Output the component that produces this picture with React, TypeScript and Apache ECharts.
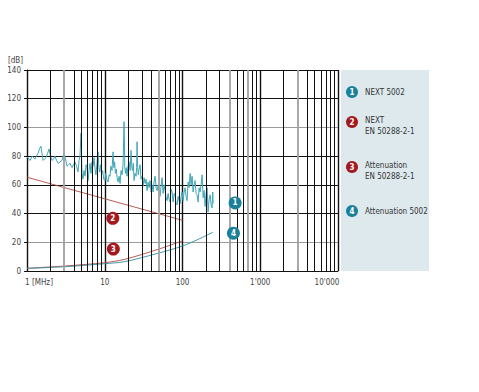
import React, { useEffect, useRef } from "react";
import * as echarts from "echarts";

const FONT = '"DejaVu Sans Condensed", "Liberation Sans Narrow", "Roboto Condensed", sans-serif';

const xTickValues = [1, 10, 100, 1000, 10000];
const xTickLabels = ["1 [MHz]", "10", "100", "1'000", "10'000"];
const yTickValues = [0, 20, 40, 60, 80, 100, 120, 140];

const seriesNames = ["NEXT 5002", "NEXT EN 50288-2-1", "Attenuation EN 50288-2-1", "Attenuation 5002"];
const legendLines = [["NEXT 5002"], ["NEXT", "EN 50288-2-1"], ["Attenuation", "EN 50288-2-1"], ["Attenuation 5002"]];
const badgeNumbers = ["1", "2", "3", "4"];

// NEXT 5002 measured (MHz, dB)
const next5002: [number, number][] = [
  [1.0, 79], [1.03, 79], [1.06, 78], [1.09, 77], [1.12, 78], [1.16, 80], [1.21, 79], [1.27, 78],
  [1.32, 80], [1.385, 82], [1.45, 85], [1.51, 87], [1.56, 82], [1.61, 77], [1.68, 78], [1.76, 79],
  [1.84, 82], [1.92, 85], [2.0, 80], [2.1, 77], [2.2, 78], [2.29, 80], [2.4, 77], [2.51, 75],
  [2.66, 76], [2.82, 77], [2.99, 82], [3.1, 79], [3.27, 73], [3.42, 74], [3.58, 75], [3.7, 73],
  [3.8, 72], [3.97, 74], [4.15, 76], [4.33, 73], [4.53, 69], [4.67, 77], [4.8, 80], [4.955, 96],
  [5.03, 80], [5.1, 68], [5.25, 64], [5.4, 70], [5.58, 66], [5.75, 74], [5.92, 72], [6.1, 63],
  [6.28, 70], [6.47, 75], [6.65, 68], [6.85, 76], [7.07, 73], [7.3, 79], [7.5, 71], [7.7, 67],
  [7.95, 75], [8.2, 83], [8.4, 72], [8.6, 69], [8.85, 74], [9.1, 67], [9.4, 70], [9.7, 64],
  [10.09, 63], [10.3, 68], [10.6, 64], [11.03, 62], [11.4, 67], [11.7, 66], [12.0, 73], [12.4, 70],
  [12.79, 83], [13.1, 72], [13.4, 76], [13.7, 68], [14.1, 71], [14.4, 65], [14.84, 62], [15.3, 66],
  [15.74, 61], [16.2, 70], [16.7, 67], [17.2, 74], [17.72, 104], [18.1, 72], [18.5, 68], [18.9, 72],
  [19.36, 66], [19.9, 73], [20.54, 76], [21.2, 70], [21.8, 84], [22.3, 72], [22.8, 70], [23.3, 75],
  [23.83, 63], [24.5, 68], [25.28, 66], [25.7, 72], [26.04, 90], [26.5, 72], [27.0, 67], [27.63, 71],
  [28.47, 74], [29.3, 64], [30.2, 66], [31.12, 59], [32.0, 65], [33.02, 61], [34.0, 64], [35.04, 56],
  [36.09, 62], [37.2, 58], [38.28, 63], [39.5, 55], [40.63, 60], [41.85, 55], [43.0, 62], [44.41, 66],
  [45.8, 58], [47.12, 56], [48.53, 60], [50.0, 54], [51.5, 52], [53.0, 59], [54.64, 65], [56.29, 54],
  [58.0, 60], [59.73, 56], [61.5, 51], [63.38, 49], [65.28, 54], [67.2, 50], [69.27, 48], [71.3, 57],
  [73.49, 55], [75.7, 48], [78.0, 54], [80.33, 53], [82.7, 47], [85.23, 46], [87.78, 52], [90.4, 49],
  [93.14, 47], [96.0, 52], [98.83, 55], [101.8, 49], [104.8, 55], [108, 58], [111.2, 52], [114.6, 49],
  [118.1, 62], [121.6, 58], [125.3, 68], [129, 60], [132.9, 66], [136.9, 55], [141, 60], [145.3, 63],
  [149.6, 54], [154.1, 53], [158.8, 48], [163.5, 58], [168.5, 55], [173.5, 60], [178.8, 67], [184.2, 51],
  [189.7, 56], [195.4, 45], [201.3, 54], [207.4, 58], [213.5, 41], [220, 50], [226.6, 53], [233.4, 46],
  [240.4, 44], [245, 55], [247.7, 47],
];

const nextEN: [number, number][] = [[1, 65.3], [10, 50.3], [100, 35.3]];
const attEN: [number, number][] = [[1, 1.9], [3.1, 3.5], [10, 5.8], [18, 8.1], [48, 15], [100, 21]];
const att5002: [number, number][] = [[1, 1.8], [3.1, 3.0], [10, 5.1], [18, 6.5], [48, 12.3], [100, 17.4], [158, 22], [247, 27]];

// badge anchor points (MHz, dB)
const badgePoints: [number, number][] = [[475, 47.4], [12.7, 36.7], [12.9, 15.3], [452, 26.3]];

const minorMultipliers = [2, 3, 4, 5, 6, 7, 8, 9];
const decadeStarts = [1, 10, 100, 1000];
const softLines = [3, 50, 400, 700, 3000];

const TEAL_LINE = "#40a6b8";
const TEAL_DARK = "#2f8ea2";
const RED_LINE = "#b3473f";
const TEAL_BADGE = "#1b809a";
const RED_BADGE = "#a5181e";
const colors = [TEAL_LINE, RED_LINE, RED_LINE, TEAL_DARK];
const badgeColors = [TEAL_BADGE, RED_BADGE, RED_BADGE, TEAL_BADGE];

export default function App() {
  const ref = useRef<HTMLDivElement>(null);
  useEffect(() => {
    if (!ref.current) return;
    const chart = echarts.init(ref.current, null, { renderer: "svg" });

    const minorValues: number[] = [];
    decadeStarts.forEach((d) => minorMultipliers.forEach((m) => minorValues.push(d * m)));

    const badge = (i: number) => ({
      silent: true,
      data: [
        {
          coord: badgePoints[i],
          symbol: "circle",
          symbolSize: 13,
          itemStyle: { color: badgeColors[i], borderWidth: 0 },
          label: {
            show: true,
            position: "inside",
            formatter: badgeNumbers[i],
            color: "#fff",
            fontSize: 8,
            fontWeight: "bold",
            fontFamily: FONT,
          },
        },
      ],
    });

    const lineData = [next5002, nextEN, attEN, att5002];

    const legendGraphics: any[] = [
      {
        type: "rect",
        shape: { x: 341, y: 70, width: 88, height: 201 },
        style: { fill: "#dee9ee" },
        z: 0,
      },
    ];
    const badgeY = [92, 122, 167, 211];
    badgeY.forEach((y, i) => {
      legendGraphics.push({
        type: "circle",
        shape: { cx: 352, cy: y, r: 6 },
        style: { fill: badgeColors[i] },
        z: 1,
      });
      legendGraphics.push({
        type: "text",
        x: 352,
        y: y,
        style: {
          text: badgeNumbers[i],
          fill: "#fff",
          font: `bold 8px ${FONT}`,
          align: "center",
          verticalAlign: "middle",
        },
        z: 2,
      });
      const lines = legendLines[i];
      legendGraphics.push({
        type: "text",
        x: 365,
        y: lines.length === 1 ? y : y + 4,
        style: {
          text: lines.join("\n"),
          fill: "#333",
          font: `8px ${FONT}`,
          lineHeight: 11,
          align: "left",
          verticalAlign: "middle",
        },
        z: 2,
      });
    });

    const option: any = {
      animation: false,
      backgroundColor: "#fff",
      grid: { left: 27, right: 141, top: 70, bottom: 121, show: false },
      xAxis: {
        type: "log",
        logBase: 10,
        min: 1,
        max: 10000,
        axisLine: { show: true, lineStyle: { color: "#111", width: 1 } },
        axisTick: { show: false },
        splitLine: { show: true, lineStyle: { color: "#111", width: 1.4 } },
        axisLabel: {
          fontFamily: FONT,
          fontSize: 8,
          color: "#444",
          margin: 7,
          showMinLabel: true,
          showMaxLabel: true,
          formatter: (v: number) => {
            const idx = xTickValues.findIndex((t) => Math.abs(Math.log10(t) - Math.log10(v)) < 0.01);
            if (idx < 0) return "";
            if (idx === 0) return `{first|${xTickLabels[idx]}}`;
            if (idx === xTickValues.length - 1) return `{last|${xTickLabels[idx]}}`;
            return xTickLabels[idx];
          },
          rich: {
            first: { fontFamily: FONT, fontSize: 8, color: "#444", padding: [0, 0, 0, 24] },
            last: { fontFamily: FONT, fontSize: 8, color: "#444", padding: [0, 22, 0, 0] },
          },
        },
      },
      yAxis: {
        type: "value",
        min: yTickValues[0],
        max: yTickValues[yTickValues.length - 1],
        interval: 20,
        name: "[dB]",
        nameLocation: "end",
        nameGap: 6,
        nameTextStyle: { fontFamily: FONT, fontSize: 8, color: "#444", align: "right", padding: [0, 4, 0, 0] },
        axisLine: { show: true, lineStyle: { color: "#111", width: 1 } },
        axisTick: { show: true, length: 3, lineStyle: { color: "#111" } },
        axisLabel: { fontFamily: FONT, fontSize: 8, color: "#444", margin: 6 },
        splitLine: {
          show: true,
          lineStyle: {
            color: ["#111", "#9a9a9a", "#111", "#111", "#111", "#9a9a9a", "#111", "#111"],
            width: 1,
          },
        },
      },
      graphic: legendGraphics,
      series: [
        {
          type: "line",
          name: "grid",
          data: [],
          z: 1,
          silent: true,
          markLine: {
            silent: true,
            symbol: ["none", "none"],
            label: { show: false },
            lineStyle: { color: "#111", width: 1, type: "solid" },
            emphasis: { disabled: true },
            data: minorValues.map((v) => ({
              xAxis: v,
              lineStyle: softLines.includes(v)
                ? { color: "#a0a0a0", width: 1.8, type: "solid" }
                : { color: "#111", width: 1, type: "solid" },
            })),
          },
        },
        ...lineData.map((d, i) => ({
          type: "line",
          name: seriesNames[i],
          data: d,
          z: 3,
          symbol: "none",
          smooth: i === 2 || i === 3 ? 0.3 : false,
          lineStyle: { color: colors[i], width: i === 0 ? 1 : 0.9 },
          markPoint: badge(i),
        })),
      ],
    };
    chart.setOption(option);
    return () => chart.dispose();
  }, []);
  return (
    <div
      ref={ref}
      style={{ position: "absolute", left: 0, top: 0, width: 479, height: 392, background: "#fff" }}
    />
  );
}
